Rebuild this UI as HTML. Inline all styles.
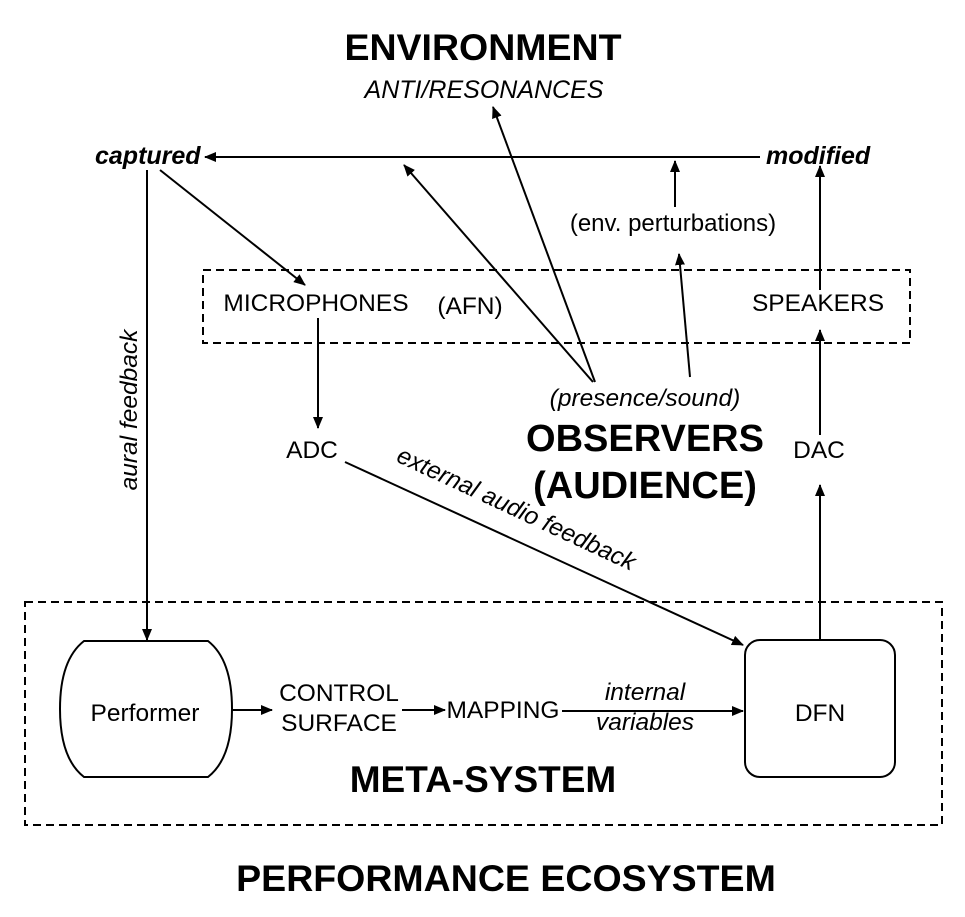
<!DOCTYPE html>
<html><head><meta charset="utf-8"><style>body{margin:0;background:#fff}svg{display:block}</style></head><body>
<svg width="965" height="917" viewBox="0 0 965 917" xmlns="http://www.w3.org/2000/svg" font-family="Liberation Sans, Arial, sans-serif">
<defs><marker id="a" markerWidth="12" markerHeight="10" refX="11" refY="5" orient="auto" markerUnits="userSpaceOnUse"><path d="M0,0 L12,5 L0,10 z" fill="#000"/></marker></defs>
<g fill="#000">
<text x="483" y="60" font-size="37.5" font-weight="bold" text-anchor="middle">ENVIRONMENT</text>
<text x="484" y="98" font-size="25" font-style="italic" text-anchor="middle">ANTI/RESONANCES</text>
<text x="95" y="164" font-size="25" font-weight="bold" font-style="italic">captured</text>
<text x="766" y="164" font-size="25" font-weight="bold" font-style="italic">modified</text>
<text x="673" y="231" font-size="24" text-anchor="middle">(env. perturbations)</text>
<text x="316" y="311" font-size="24.5" text-anchor="middle">MICROPHONES</text>
<text x="470" y="314" font-size="24.5" text-anchor="middle">(AFN)</text>
<text x="818" y="311" font-size="24.5" text-anchor="middle">SPEAKERS</text>
<text x="645" y="406" font-size="24.5" font-style="italic" text-anchor="middle">(presence/sound)</text>
<text x="645" y="451" font-size="38" font-weight="bold" text-anchor="middle">OBSERVERS</text>
<text x="645" y="498" font-size="38" font-weight="bold" text-anchor="middle">(AUDIENCE)</text>
<text x="312" y="458" font-size="24.5" text-anchor="middle">ADC</text>
<text x="819" y="458" font-size="24.5" text-anchor="middle">DAC</text>
<text transform="translate(137,410) rotate(-90)" font-size="24.5" font-style="italic" text-anchor="middle">aural feedback</text>
<text transform="translate(513,516) rotate(25)" font-size="24.5" font-style="italic" text-anchor="middle">external audio feedback</text>
<text x="145" y="721" font-size="24.5" text-anchor="middle">Performer</text>
<text x="339" y="701" font-size="24.5" text-anchor="middle">CONTROL</text>
<text x="339" y="731" font-size="24.5" text-anchor="middle">SURFACE</text>
<text x="503" y="718" font-size="24.5" text-anchor="middle">MAPPING</text>
<text x="645" y="700" font-size="24.5" font-style="italic" text-anchor="middle">internal</text>
<text x="645" y="730" font-size="24.5" font-style="italic" text-anchor="middle">variables</text>
<text x="820" y="721" font-size="24.5" text-anchor="middle">DFN</text>
<text x="483" y="792" font-size="37" font-weight="bold" text-anchor="middle">META-SYSTEM</text>
<text x="506" y="891" font-size="37.5" font-weight="bold" text-anchor="middle">PERFORMANCE ECOSYSTEM</text>
</g>
<g stroke="#000" stroke-width="2" fill="none">
<rect x="203" y="270" width="707" height="73" stroke-dasharray="8,5"/>
<rect x="25" y="602" width="917" height="223" stroke-dasharray="8,5"/>
<path d="M84,641 H208 C226,655 232,680 232,709 C232,738 226,763 208,777 H84 C66,763 60,738 60,709 C60,680 66,655 84,641 Z"/>
<rect x="745" y="640" width="150" height="137" rx="15"/>
<line x1="760" y1="157" x2="205" y2="157" marker-end="url(#a)"/>
<line x1="160" y1="170" x2="305" y2="285" marker-end="url(#a)"/>
<line x1="147" y1="170" x2="147" y2="640" marker-end="url(#a)"/>
<line x1="318" y1="318" x2="318" y2="428" marker-end="url(#a)"/>
<line x1="345" y1="462" x2="743" y2="645" marker-end="url(#a)"/>
<line x1="595" y1="382" x2="493" y2="107" marker-end="url(#a)"/>
<line x1="593" y1="382" x2="404" y2="165" marker-end="url(#a)"/>
<line x1="690" y1="377" x2="679" y2="254" marker-end="url(#a)"/>
<line x1="675" y1="207" x2="675" y2="161" marker-end="url(#a)"/>
<line x1="820" y1="640" x2="820" y2="485" marker-end="url(#a)"/>
<line x1="820" y1="435" x2="820" y2="330" marker-end="url(#a)"/>
<line x1="820" y1="290" x2="820" y2="166" marker-end="url(#a)"/>
<line x1="232" y1="710" x2="272" y2="710" marker-end="url(#a)"/>
<line x1="402" y1="710" x2="445" y2="710" marker-end="url(#a)"/>
<line x1="562" y1="711" x2="743" y2="711" marker-end="url(#a)"/>
</g>
</svg>
</body></html>
